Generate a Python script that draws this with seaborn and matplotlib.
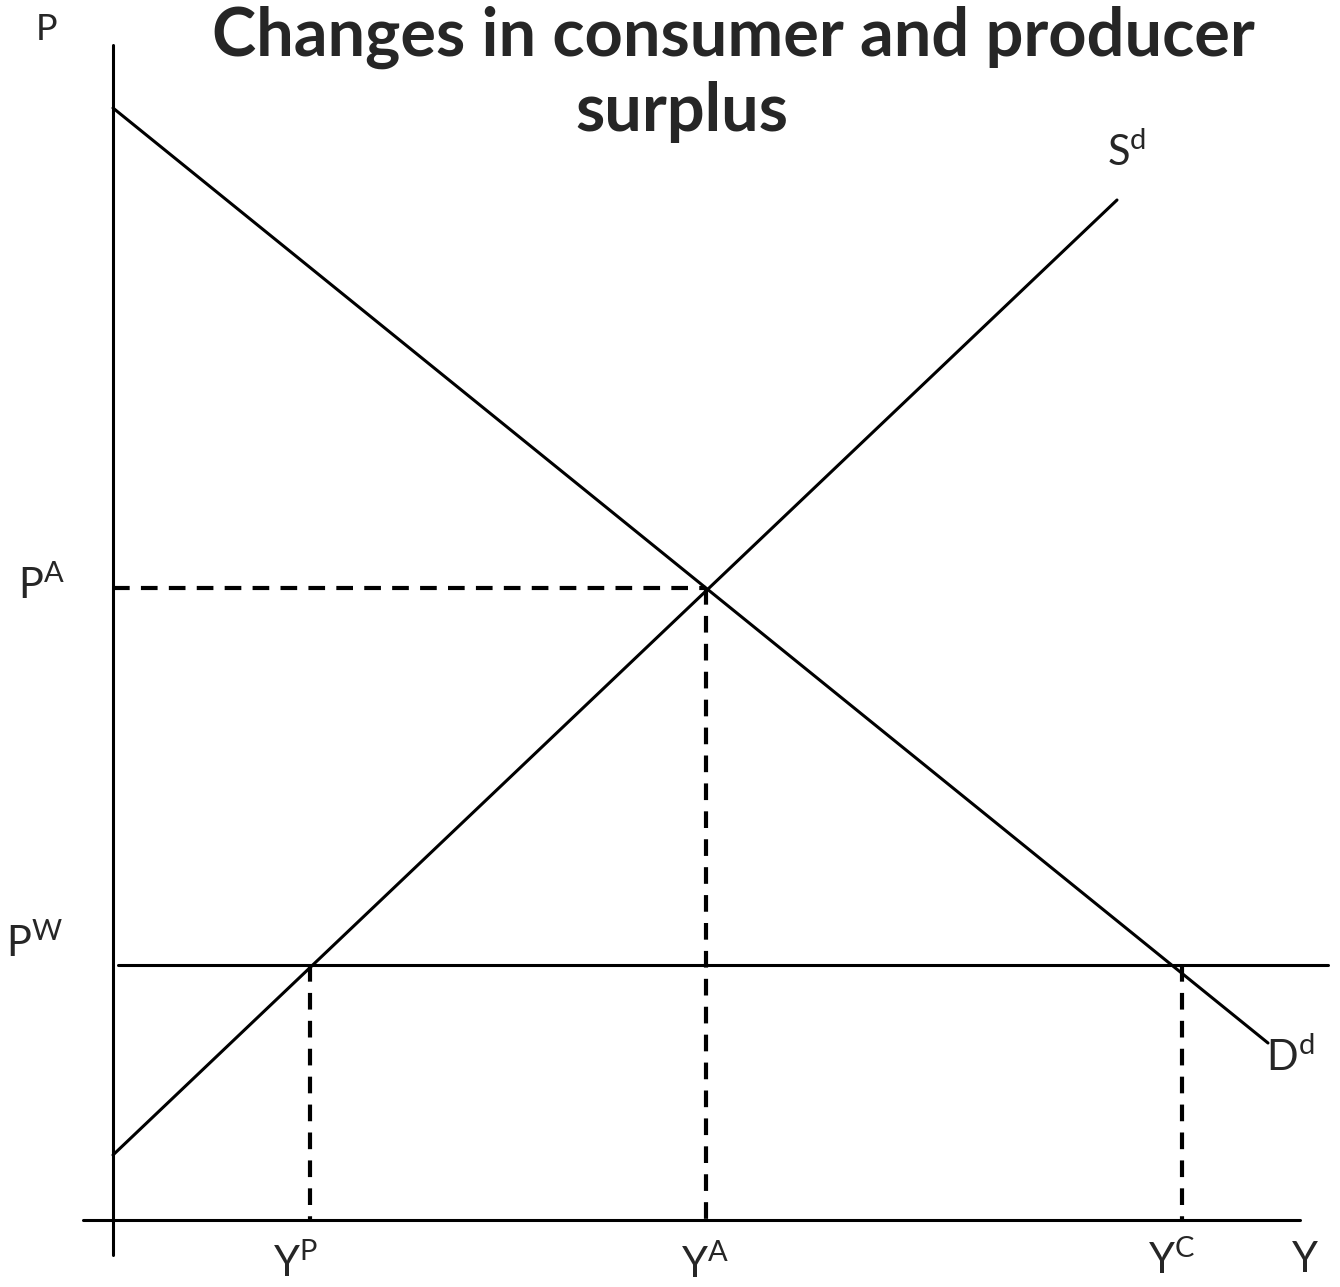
import matplotlib
matplotlib.use("Agg")
import matplotlib.pyplot as plt
import seaborn as sns

# Angebot/Nachfrage-Diagramm (Einheiten: Menge Y, Preis P)
demand_q = [0.0, 115.5]
demand_p = [111.2, 17.7]
supply_q = [0.0, 100.4]
supply_p = [6.5, 102.0]

eq_q, eq_p = 59.3, 63.2       # Autarkie-Gleichgewicht (Y^A, P^A)
world_p = 25.5                # Weltmarktpreis P^W
yp_q, yc_q = 19.7, 106.9      # Produktion / Konsum zum Weltmarktpreis
world_q = [0.5, 121.5]

sns.set_style("white")
plt.rcParams['font.family'] = ['Lato', 'DejaVu Sans']
plt.rcParams['mathtext.fontset'] = 'custom'
plt.rcParams['mathtext.rm'] = 'Lato'

fig = plt.figure(figsize=(13.4, 12.87), dpi=100)
ax = fig.add_axes([0, 0, 1, 1])
ax.set_xlim(-11.3, 122.7)
ax.set_ylim(-6.7, 122.0)
ax.axis('off')

lw = 2.2
dash = (0, (4, 2.7))

# Achsen
ax.plot([0, 0], [-3.5, 117.5], color='black', lw=lw)
ax.plot([-3.0, 118.7], [0, 0], color='black', lw=lw)

# Kurven
sns.lineplot(x=demand_q, y=demand_p, color='black', lw=lw, ax=ax)
sns.lineplot(x=supply_q, y=supply_p, color='black', lw=lw, ax=ax)
sns.lineplot(x=world_q, y=[world_p, world_p], color='black', lw=lw, ax=ax)

# gestrichelte Hilfslinien
ax.plot([0, eq_q], [eq_p, eq_p], color='black', lw=3, linestyle=dash)
ax.plot([eq_q, eq_q], [eq_p, 0], color='black', lw=3, linestyle=dash)
ax.plot([yp_q, yp_q], [world_p, 0], color='black', lw=3, linestyle=dash)
ax.plot([yc_q, yc_q], [world_p, 0], color='black', lw=3, linestyle=dash)

# Beschriftungen
fs = 30
ax.text(-6.6, 119.0, 'P', fontsize=26, ha='center', va='center')
ax.text(-7.1, 63.5, r'$\mathrm{P}^{\mathrm{A}}$', fontsize=fs, ha='center', va='center')
ax.text(-7.8, 27.7, r'$\mathrm{P}^{\mathrm{W}}$', fontsize=fs, ha='center', va='center')
ax.text(18.2, -4.3, r'$\mathrm{Y}^{\mathrm{P}}$', fontsize=fs, ha='center', va='center')
ax.text(59.2, -4.4, r'$\mathrm{Y}^{\mathrm{A}}$', fontsize=fs, ha='center', va='center')
ax.text(105.9, -4.0, r'$\mathrm{Y}^{\mathrm{C}}$', fontsize=fs, ha='center', va='center')
ax.text(119.2, -4.0, 'Y', fontsize=fs, ha='center', va='center')
ax.text(101.4, 106.8, r'$\mathrm{S}^{\mathrm{d}}$', fontsize=fs, ha='center', va='center')
ax.text(117.7, 16.3, r'$\mathrm{D}^{\mathrm{d}}$', fontsize=fs, ha='center', va='center')

ax.text(62.0, 118.3, 'Changes in consumer and producer', fontsize=48,
        fontweight='bold', ha='center', va='center')
ax.text(56.9, 110.8, 'surplus', fontsize=48, fontweight='bold', ha='center', va='center')

plt.savefig('out.png', dpi=100)
